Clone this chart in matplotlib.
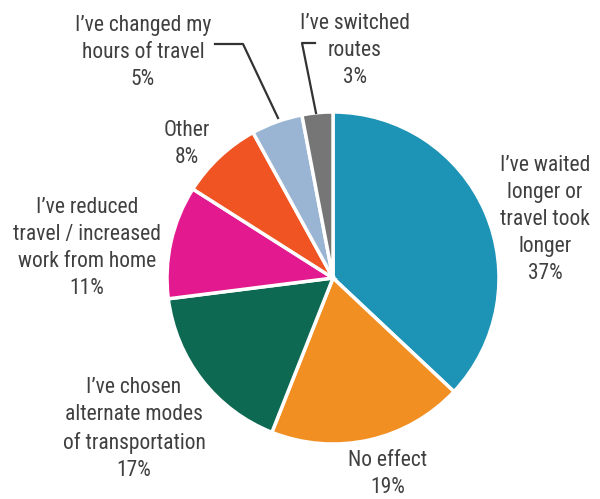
import matplotlib
matplotlib.use('Agg')
import matplotlib.pyplot as plt
from matplotlib.lines import Line2D

labels = ["I’ve waited\nlonger or\ntravel took\nlonger", "No effect",
          "I’ve chosen\nalternate modes\nof transportation",
          "I’ve reduced\ntravel / increased\nwork from home",
          "Other", "I’ve changed my\nhours of travel", "I’ve switched\nroutes"]
values = [37, 19, 17, 11, 8, 5, 3]
colors = ['#1D93B5', '#F18F22', '#0E6952', '#E31A8F', '#F05423', '#9AB5D3', '#767676']

# label centre x and top y, in pixels
label_pos = [(545, 155), (388, 450), (134, 377), (87, 197), (187, 120), (143, 15), (355, 13)]

W, H = 600, 499
fig = plt.figure(figsize=(6, 4.99), dpi=100)
cx, cy, r = 333, 278, 166
ax = fig.add_axes([(cx - r) / W, (H - cy - r) / H, 2 * r / W, 2 * r / H])
ax.pie(values, colors=colors, startangle=90, counterclock=False,
       wedgeprops=dict(edgecolor='white', linewidth=2.5))
ax.set_xlim(-1, 1)
ax.set_ylim(-1, 1)
ax.set_aspect('auto')
ax.axis('off')

txt_color = '#404040'
for lab, v, (x, y) in zip(labels, values, label_pos):
    fig.text(x / W, 1 - y / H, lab + '\n%d%%' % v, ha='center', va='top',
             fontsize=15.5, color=txt_color, family=['Roboto Condensed', 'DejaVu Sans'],
             linespacing=1.38)

# leader lines
for pts in [[(278, 118), (243, 44), (215, 44)], [(316, 113), (302, 43), (315, 43)]]:
    xs = [p[0] / W for p in pts]
    ys = [1 - p[1] / H for p in pts]
    fig.add_artist(Line2D(xs, ys, color='#333333', linewidth=1.6))

fig.savefig('out.png', dpi=100)
